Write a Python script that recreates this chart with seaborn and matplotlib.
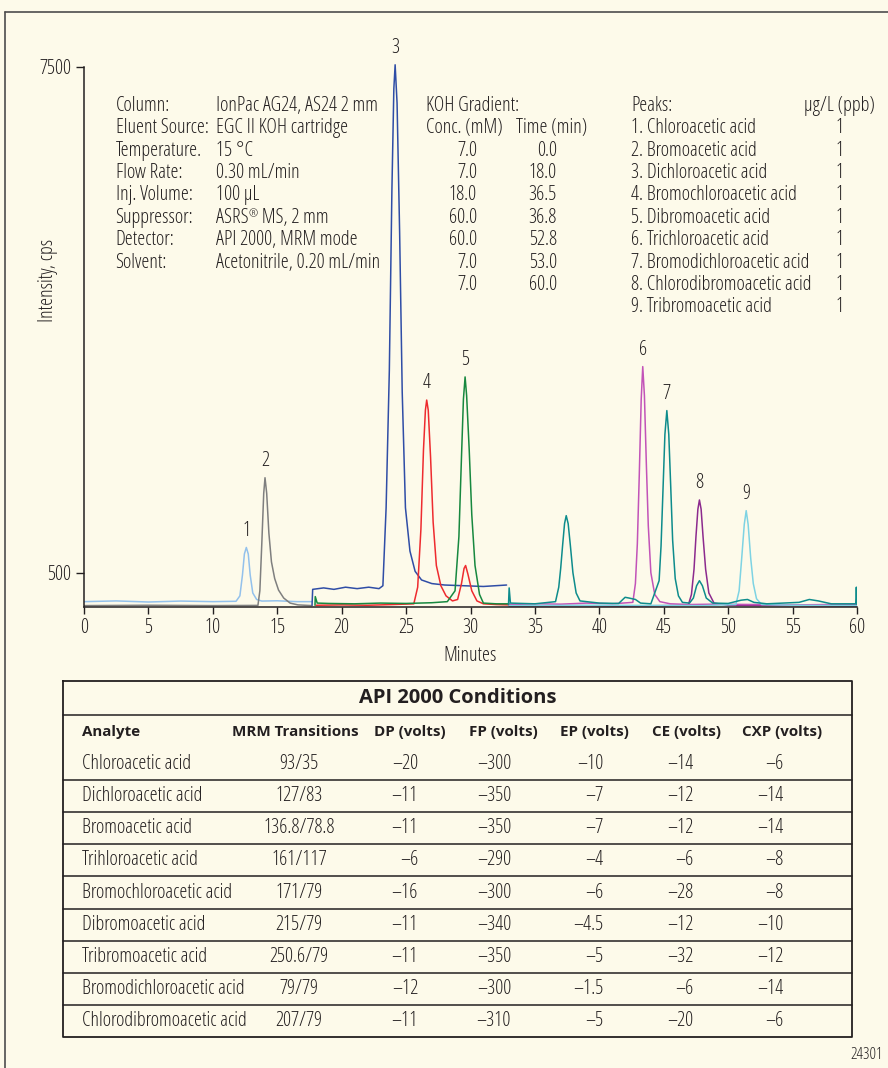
import matplotlib
matplotlib.use("Agg")
import matplotlib.pyplot as plt
import seaborn as sns
import pandas as pd
from matplotlib import font_manager
from matplotlib.font_manager import FontProperties

# ---------------- data ----------------
# chromatogram traces (time in min, intensity in cps)
lightblue_t = [0.0, 2.5, 5.0, 7.5, 10.0, 11.8, 12.1, 12.3, 12.45, 12.6, 12.75, 12.9, 13.1, 13.4, 13.8, 15.0, 16.5, 17.7]
lightblue_y = [100, 110, 95, 108, 100, 105, 180, 470, 760, 850, 760, 470, 220, 130, 108, 112, 100, 100]

gray_t = [0.0, 5.0, 10.0, 13.5, 13.65, 13.8, 13.95, 14.05, 14.18, 14.35, 14.55, 14.8, 15.1, 15.5, 16.0, 16.6, 17.7]
gray_y = [45, 50, 45, 48, 250, 900, 1600, 1815, 1600, 1050, 650, 420, 260, 150, 80, 55, 45]

blue_t = [17.7, 17.75, 18.6, 19.4, 20.3, 21.2, 22.1, 22.9, 23.2, 23.45, 23.7, 23.9, 24.05, 24.15,
          24.3, 24.5, 24.7, 24.95, 25.3, 25.7, 26.2, 27.0, 28.0, 29.5, 31.0, 32.8]
blue_y = [50, 270, 290, 270, 300, 280, 300, 280, 320, 1400, 3300, 5800, 7200, 7530,
          7000, 5200, 3000, 1400, 800, 520, 400, 350, 330, 320, 310, 330]

red_t = [18.0, 20.0, 22.0, 24.0, 25.6, 25.9, 26.15, 26.35, 26.5, 26.6, 26.72, 26.9, 27.1, 27.35,
         27.7, 28.1, 28.6, 29.0, 29.3, 29.5, 29.62, 29.8, 30.1, 30.5, 31.0, 32.0, 33.0]
red_y = [50, 55, 50, 60, 70, 300, 1100, 2200, 2750, 2890, 2750, 2100, 1200, 600,
         320, 180, 110, 130, 350, 560, 600, 480, 250, 110, 70, 60, 55]

green_t = [17.93, 17.95, 18.1, 19.0, 21.0, 23.0, 25.0, 27.0, 28.2, 28.8, 29.1, 29.3, 29.45, 29.58,
           29.7, 29.9, 30.1, 30.35, 30.7, 31.0, 32.0, 33.0]
green_y = [50, 170, 80, 75, 70, 80, 75, 85, 100, 250, 1000, 2100, 2900, 3210,
           2950, 2200, 1300, 600, 200, 80, 70, 70]

purple_t = [33.0, 38.0, 42.0, 45.0, 46.9, 47.15, 47.35, 47.5, 47.65, 47.77, 47.9, 48.05, 48.25, 48.5, 48.9, 50.0, 55.0, 60.0]
purple_y = [40, 45, 40, 45, 50, 200, 550, 1000, 1380, 1507, 1380, 1000, 550, 220, 80, 50, 45, 40]

magenta_t = [33.0, 35.0, 37.0, 39.0, 41.0, 42.6, 42.8, 42.95, 43.1, 43.25, 43.37, 43.5, 43.65, 43.8,
             44.0, 44.3, 44.7, 45.5, 47.0, 49.0, 52.0, 55.0, 58.0, 60.0]
magenta_y = [60, 70, 65, 80, 70, 90, 350, 900, 1850, 2900, 3353, 2950, 2000, 1150,
             500, 200, 100, 70, 60, 65, 60, 55, 60, 60]

cyan_t = [33.0, 40.0, 48.0, 50.6, 50.85, 51.05, 51.25, 51.4, 51.55, 51.75, 51.95, 52.2, 52.6, 55.0, 60.0]
cyan_y = [45, 50, 45, 60, 250, 700, 1170, 1359, 1170, 700, 350, 140, 60, 50, 45]

teal_t = [32.95, 33.0, 33.1, 34.0, 35.0, 36.6, 36.85, 37.0, 37.15, 37.3, 37.43, 37.58, 37.75, 37.95,
          38.2, 38.5, 40.0, 41.5, 42.0, 42.3, 42.8, 43.2, 44.0, 44.64, 44.79, 44.94, 45.09, 45.24,
          45.39, 45.54, 45.69, 45.89, 46.14, 46.45, 47.0, 47.3, 47.55, 47.77, 48.0, 48.3, 48.8,
          50.0, 51.0, 51.5, 52.0, 53.0, 55.5, 56.3, 57.0, 58.0, 59.9, 59.95, 60.0]
teal_y = [60, 290, 80, 75, 70, 100, 300, 560, 880, 1180, 1290, 1180, 880, 500,
          220, 110, 80, 75, 160, 150, 130, 80, 70, 390, 870, 1640, 2415, 2744,
          2415, 1700, 950, 420, 180, 90, 80, 150, 320, 390, 320, 150, 80,
          75, 120, 130, 90, 70, 90, 130, 110, 70, 70, 300, 60]

peak_numbers = ["1", "2", "3", "4", "5", "6", "7", "8", "9"]
peak_times = [12.6, 14.05, 24.15, 26.6, 29.58, 43.37, 45.24, 47.77, 51.4]
peak_heights = [850, 1815, 7530, 2890, 3210, 3353, 2744, 1507, 1359]

x_ticks = [0, 5, 10, 15, 20, 25, 30, 35, 40, 45, 50, 55, 60]
y_ticks = [500, 7500]

cond_labels = ["Column:", "Eluent Source:", "Temperature.", "Flow Rate:", "Inj. Volume:",
               "Suppressor:", "Detector:", "Solvent:"]
cond_values = ["IonPac AG24, AS24 2 mm", "EGC II KOH cartridge", "15 \u00b0C", "0.30 mL/min",
               "100 \u00b5L", "ASRS\u00ae MS, 2 mm", "API 2000, MRM mode",
               "Acetonitrile, 0.20 mL/min"]
grad_conc = ["7.0", "7.0", "18.0", "60.0", "60.0", "7.0", "7.0"]
grad_time = ["0.0", "18.0", "36.5", "36.8", "52.8", "53.0", "60.0"]
peak_names = ["1. Chloroacetic acid", "2. Bromoacetic acid", "3. Dichloroacetic acid",
              "4. Bromochloroacetic acid", "5. Dibromoacetic acid", "6. Trichloroacetic acid",
              "7. Bromodichloroacetic acid", "8. Chlorodibromoacetic acid", "9. Tribromoacetic acid"]
peak_conc = ["1", "1", "1", "1", "1", "1", "1", "1", "1"]

table_title = "API 2000 Conditions"
table_headers = ["Analyte", "MRM Transitions", "DP (volts)", "FP (volts)", "EP (volts)",
                 "CE (volts)", "CXP (volts)"]
analytes = ["Chloroacetic acid", "Dichloroacetic acid", "Bromoacetic acid", "Trihloroacetic acid",
            "Bromochloroacetic acid", "Dibromoacetic acid", "Tribromoacetic acid",
            "Bromodichloroacetic acid", "Chlorodibromoacetic acid"]
mrm = ["93/35", "127/83", "136.8/78.8", "161/117", "171/79", "215/79", "250.6/79", "79/79", "207/79"]
dp = ["\u201320", "\u201311", "\u201311", "\u20136", "\u201316", "\u201311", "\u201311", "\u201312", "\u201311"]
fp = ["\u2013300", "\u2013350", "\u2013350", "\u2013290", "\u2013300", "\u2013340", "\u2013350", "\u2013300", "\u2013310"]
ep = ["\u201310", "\u20137", "\u20137", "\u20134", "\u20136", "\u20134.5", "\u20135", "\u20131.5", "\u20135"]
ce = ["\u201314", "\u201312", "\u201312", "\u20136", "\u201328", "\u201312", "\u201332", "\u20136", "\u201320"]
cxp = ["\u20136", "\u201314", "\u201314", "\u20138", "\u20138", "\u201310", "\u201312", "\u201314", "\u20136"]
figure_id = "24301"

# ---------------- style ----------------
sns.set_style("ticks")

names = {f.name for f in font_manager.fontManager.ttflist}


def text_width(s, family, stretch, size, weight="normal"):
    tmp = plt.figure(figsize=(6, 1), dpi=100)
    t = tmp.text(0, 0, s, fontfamily=family, fontstretch=stretch, fontsize=size, fontweight=weight)
    w = t.get_window_extent(tmp.canvas.get_renderer()).width
    plt.close(tmp)
    return w


def is_sans(path):
    low = path.lower()
    return ("serif" not in low or "sans" in low) and "mono" not in low


preferred = ["Liberation Sans Narrow", "Arial Narrow", "Roboto Condensed", "Open Sans Condensed",
             "Noto Sans Condensed", "Noto Sans SemiCondensed", "DejaVu Sans Condensed",
             "Roboto", "Liberation Sans", "Lato", "Noto Sans", "Open Sans", "Inter", "DejaVu Sans"]
SAMPLE = "Chlorodibromoacetic acid"
best = ("DejaVu Sans", "normal", text_width(SAMPLE, "DejaVu Sans", "normal", 12.5))
for n in preferred:
    if n not in names:
        continue
    for st in ("condensed", "normal"):
        try:
            p_reg = font_manager.findfont(FontProperties(family=n, stretch=st), fallback_to_default=False)
            p_bold = font_manager.findfont(FontProperties(family=n, stretch=st, weight="bold"),
                                           fallback_to_default=False)
        except Exception:
            continue
        if not (is_sans(p_reg) and is_sans(p_bold)):
            continue
        if p_reg == p_bold:
            continue
        w = text_width(SAMPLE, n, st, 12.5)
        if w < best[2] - 0.5:
            best = (n, st, w)
FONT, STRETCH, W = best

plt.rcParams["font.family"] = [FONT, "DejaVu Sans"]
plt.rcParams["font.stretch"] = STRETCH

FS = min(14.5, 12.5 * 167.0 / W)
FS_HDR = min(14.5, 13.0 * 126.0 / text_width("MRM Transitions", FONT, STRETCH, 13, "bold"))
FS_TITLE = min(19.0, 17.0 * 198.0 / text_width(table_title, FONT, STRETCH, 17, "bold"))

BG = "#FDFAEA"
TXT = "#231F20"

fig = plt.figure(figsize=(8.88, 10.68), dpi=100, facecolor=BG)

# chart axes
ax = fig.add_axes([84 / 888, 1 - 606.7 / 1068, 773 / 888, (606.7 - 52.5) / 1068])
ax.set_facecolor("none")

traces = [
    (lightblue_t, lightblue_y, "#93C1EC"),
    (gray_t, gray_y, "#7F7F7F"),
    (blue_t, blue_y, "#2F4DA6"),
    (red_t, red_y, "#EE2B2F"),
    (green_t, green_y, "#17883F"),
    (purple_t, purple_y, "#8C2A8E"),
    (magenta_t, magenta_y, "#C253B8"),
    (cyan_t, cyan_y, "#7ED3E3"),
    (teal_t, teal_y, "#0E8C8C"),
]
for t, y, c in traces:
    df = pd.DataFrame({"Minutes": t, "Intensity": y})
    sns.lineplot(data=df, x="Minutes", y="Intensity", ax=ax, color=c, lw=1.1,
                 estimator=None, sort=False)

for lab, t, h in zip(peak_numbers, peak_times, peak_heights):
    ax.annotate(lab, xy=(t, h), xytext=(0, 5), textcoords="offset points",
                ha="center", va="bottom", fontsize=FS, color=TXT)

ax.set_xlim(0, 60)
ax.set_ylim(30, 7700)
ax.set_xticks(x_ticks)
ax.set_xticklabels([str(v) for v in x_ticks])
ax.set_yticks(y_ticks)
ax.set_yticklabels([str(v) for v in y_ticks])
ax.tick_params(axis="x", length=5, width=1, pad=3, labelsize=FS, colors=TXT)
ax.tick_params(axis="y", length=6, width=1, pad=3, labelsize=FS, colors=TXT)
for s in ["top", "right"]:
    ax.spines[s].set_visible(False)
for s in ["left", "bottom"]:
    ax.spines[s].set_color(TXT)
    ax.spines[s].set_linewidth(1.1)
ax.spines["left"].set_bounds(30, 7500)
ax.set_xlabel("Minutes", fontsize=FS, color=TXT, labelpad=6)
ax.set_ylabel("Intensity, cps", fontsize=FS, color=TXT)
ax.yaxis.set_label_coords(-0.034, (606.7 - 280) / (606.7 - 52.5))

# overlay axes in pixel coordinates for text blocks and table
ov = fig.add_axes([0, 0, 1, 1])
ov.set_xlim(0, 888)
ov.set_ylim(1068, 0)
ov.axis("off")
ov.patch.set_visible(False)

# figure border (top and left)
ov.plot([4.5, 888], [11.5, 11.5], color="#4D4D4D", lw=1.2)
ov.plot([4.5, 4.5], [11.5, 1068], color="#4D4D4D", lw=1.2)

row0 = 106.0
pitch = 22.37
for i, (l, v) in enumerate(zip(cond_labels, cond_values)):
    yy = row0 + i * pitch
    ov.text(115.5, yy, l, fontsize=FS, color=TXT, va="center", ha="left")
    if "\u00ae" in v:
        head, tail = v.split("\u00ae")
        t1 = ov.text(216, yy, head, fontsize=FS, color=TXT, va="center", ha="left")
        t2 = ov.annotate("\u00ae", xy=(1.0, 0.92), xycoords=t1, fontsize=FS * 0.55,
                         color=TXT, va="top", ha="left")
        ov.annotate(tail, xy=(1.0, 0.0), xycoords=(t2, t1), fontsize=FS, color=TXT,
                    va="bottom", ha="left")
    else:
        ov.text(216, yy, v, fontsize=FS, color=TXT, va="center", ha="left")

ov.text(426, row0, "KOH Gradient:", fontsize=FS, color=TXT, va="center", ha="left")
ov.text(426, row0 + pitch, "Conc. (mM)", fontsize=FS, color=TXT, va="center", ha="left")
ov.text(516, row0 + pitch, "Time (min)", fontsize=FS, color=TXT, va="center", ha="left")
for i, (c, t) in enumerate(zip(grad_conc, grad_time)):
    yy = row0 + (i + 2) * pitch
    ov.text(477, yy, c, fontsize=FS, color=TXT, va="center", ha="right")
    ov.text(557, yy, t, fontsize=FS, color=TXT, va="center", ha="right")

ov.text(631, row0, "Peaks:", fontsize=FS, color=TXT, va="center", ha="left")
ov.text(875, row0, "\u00b5g/L (ppb)", fontsize=FS, color=TXT, va="center", ha="right")
for i, (n, c) in enumerate(zip(peak_names, peak_conc)):
    yy = row0 + (i + 1) * pitch
    ov.text(631, yy, n, fontsize=FS, color=TXT, va="center", ha="left")
    ov.text(840, yy, c, fontsize=FS, color=TXT, va="center", ha="center")

# table
tx0, tx1 = 63, 852
ty_top, ty_title, ty_bot = 681, 715, 1037
row_h = (ty_bot - 780) / 8.0
lc = "#231F20"
ov.plot([tx0, tx1, tx1, tx0, tx0], [ty_top, ty_top, ty_bot, ty_bot, ty_top], color=lc, lw=1.3)
ov.plot([tx0, tx1], [ty_title, ty_title], color=lc, lw=1.1)
for k in range(8):
    yl = 780 + k * row_h
    ov.plot([tx0, tx1], [yl, yl], color=lc, lw=1.1)
ov.text((tx0 + tx1) / 2, 698, table_title, fontsize=FS_TITLE, fontweight="bold", color=TXT,
        ha="center", va="center")
hdr_x = [82, 295, 410, 503, 594, 686, 782]
hdr_ha = ["left", "center", "center", "center", "center", "center", "center"]
for h, x, a in zip(table_headers, hdr_x, hdr_ha):
    ov.text(x, 732, h, fontsize=FS_HDR, fontweight="bold", color=TXT, ha=a, va="center")
for i in range(len(analytes)):
    yy = 764 + i * row_h
    ov.text(82, yy, analytes[i], fontsize=FS, color=TXT, ha="left", va="center")
    ov.text(299, yy, mrm[i], fontsize=FS, color=TXT, ha="center", va="center")
    ov.text(418, yy, dp[i], fontsize=FS, color=TXT, ha="right", va="center")
    ov.text(511, yy, fp[i], fontsize=FS, color=TXT, ha="right", va="center")
    ov.text(603, yy, ep[i], fontsize=FS, color=TXT, ha="right", va="center")
    ov.text(693, yy, ce[i], fontsize=FS, color=TXT, ha="right", va="center")
    ov.text(783, yy, cxp[i], fontsize=FS, color=TXT, ha="right", va="center")

ov.text(883, 1055, figure_id, fontsize=FS * 0.8, color=TXT, ha="right", va="center")

fig.savefig("out.png", dpi=100, facecolor=BG)
